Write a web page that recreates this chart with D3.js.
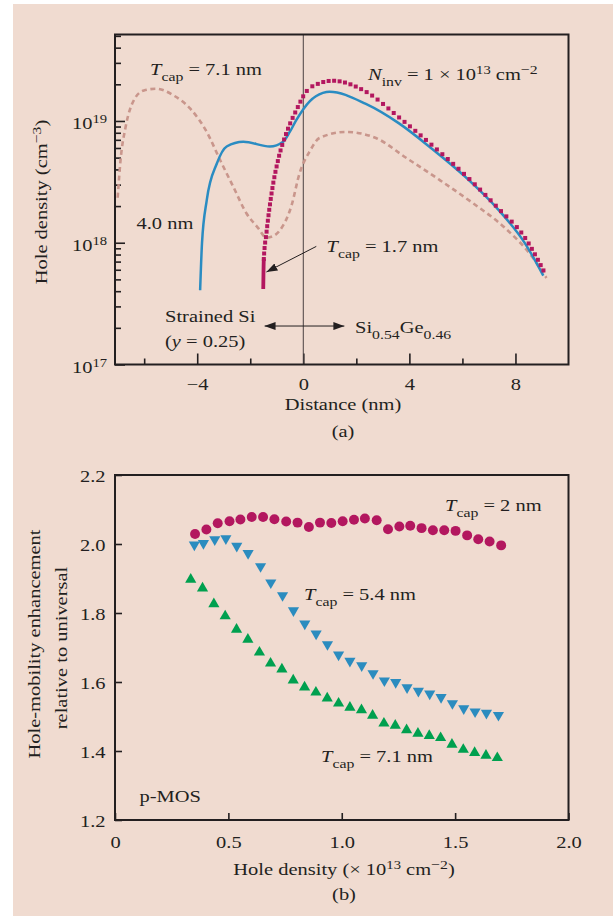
<!DOCTYPE html>
<html><head><meta charset="utf-8">
<script src="https://cdn.jsdelivr.net/npm/d3@7"></script>
<style>
body{margin:0;background:#fff}
svg{display:block}
text{font-family:"Liberation Serif","Times New Roman",serif;fill:#231f20}
</style>
</head><body>
<svg id="c" width="613" height="916"></svg>
<script>
// ---------- Panel (a) data : distance (nm) vs hole density (cm^-3) ----------
const distCap71 = [-7.0,-6.89,-6.7,-6.39,-6.01,-5.55,-4.89,-4.26,-3.64,-3.14,-2.64,-2.14,-1.70,-1.39,-1.08,-0.89,-0.45,-0.14,0.24,0.61,1.61,2.74,3.86,5.11,6.36,7.61,8.61,9.17];
const holeCap71 = [2.34e18,4.79e18,8.91e18,1.48e19,1.78e19,1.84e19,1.62e19,1.26e19,8.13e18,4.79e18,2.88e18,1.74e18,1.32e18,1.10e18,1.15e18,1.26e18,2.0e18,3.72e18,5.62e18,7.24e18,8.13e18,7.24e18,5.01e18,3.31e18,2.14e18,1.32e18,7.76e17,5.13e17];

const distCap40 = [-3.89,-3.82,-3.64,-3.26,-2.89,-2.26,-1.26,-0.76,-0.51,-0.26,0.24,0.74,0.99,2.36,3.61,4.86,6.11,7.36,8.36,9.05];
const holeCap40 = [4.07e17,9.89e17,2.24e18,4.47e18,6.17e18,6.76e18,6.17e18,6.76e18,8.13e18,1.02e19,1.45e19,1.70e19,1.74e19,1.38e19,9.55e18,5.89e18,3.47e18,1.86e18,9.89e17,5.37e17];

const distCap17 = [-1.51,-1.49,-1.39,-1.2,-0.95,-0.64,-0.26,0.11,0.61,1.11,2.36,3.61,4.86,6.11,7.36,8.36,9.11];
const holeCap17 = [4.17e17,7.24e17,1.20e18,2.51e18,4.79e18,7.94e18,1.23e19,1.74e19,2.04e19,2.14e19,1.74e19,1.07e19,6.31e18,3.59e18,1.91e18,1.10e18,5.62e17];

const distTicksMajor = [-4,0,4,8];
const distTicksMinor = [-6,-2,2,6];
const holeTicksMajor = [1e17,1e18,1e19];
const holeTicksMinor = [2e17,3e17,4e17,5e17,6e17,7e17,8e17,9e17,2e18,3e18,4e18,5e18,6e18,7e18,8e18,9e18,2e19,3e19,4e19,5e19];

// ---------- Panel (b) data : hole density (1e13 cm^-2) vs mobility enhancement ----------
const densCap2 = [0.353,0.403,0.453,0.505,0.553,0.603,0.653,0.703,0.755,0.805,0.855,0.904,0.954,1.004,1.054,1.102,1.154,1.204,1.254,1.302,1.352,1.402,1.452,1.502,1.553,1.602,1.652,1.703];
const enhCap2  = [2.029,2.042,2.060,2.066,2.071,2.078,2.078,2.072,2.065,2.062,2.049,2.062,2.061,2.066,2.070,2.074,2.069,2.043,2.051,2.053,2.046,2.040,2.040,2.038,2.025,2.014,2.007,1.996];

const densCap54 = [0.350,0.390,0.440,0.489,0.537,0.587,0.642,0.687,0.739,0.787,0.837,0.887,0.937,0.986,1.036,1.088,1.138,1.188,1.238,1.288,1.338,1.388,1.438,1.488,1.538,1.588,1.638,1.691];
const enhCap54  = [1.998,2.002,2.013,2.016,1.994,1.973,1.935,1.888,1.851,1.807,1.769,1.740,1.709,1.679,1.661,1.648,1.625,1.604,1.599,1.584,1.574,1.566,1.556,1.538,1.523,1.514,1.510,1.504];

const densCap71 = [0.334,0.386,0.436,0.486,0.536,0.586,0.637,0.686,0.736,0.786,0.836,0.886,0.936,0.986,1.036,1.087,1.136,1.186,1.236,1.286,1.336,1.386,1.436,1.486,1.536,1.586,1.636,1.686];
const enhCap71  = [1.897,1.872,1.826,1.791,1.752,1.723,1.686,1.654,1.637,1.605,1.585,1.570,1.553,1.538,1.526,1.519,1.503,1.480,1.474,1.461,1.451,1.444,1.438,1.419,1.404,1.395,1.387,1.380];

const densTicks = [0,0.5,1.0,1.5,2.0];
const enhTicks = [1.2,1.4,1.6,1.8,2.0,2.2];

// ---------- drawing ----------
const INK = "#231f20";
const SX = 1.17;
const FS = 17.5;
const svg = d3.select("#c");
svg.append("rect").attr("x",13).attr("y",4).attr("width",600).attr("height",912).attr("fill","#f0dbd0");

const defs = svg.append("defs");
defs.append("marker").attr("id","ah").attr("viewBox","0 0 11 8").attr("refX",11).attr("refY",4)
  .attr("markerWidth",11).attr("markerHeight",8).attr("markerUnits","userSpaceOnUse")
  .attr("orient","auto-start-reverse")
  .append("path").attr("d","M0,0L11,4L0,8Z").attr("fill",INK);

function label(g, x, y, parts, opt={}) {
  const size = opt.size || FS, rot = opt.rotate || 0;
  const t = g.append("text")
    .attr("transform", `translate(${x},${y}) rotate(${rot}) scale(${SX},1)`)
    .attr("text-anchor", opt.anchor || "start")
    .attr("font-size", size);
  let shift = 0;
  parts.forEach(p => {
    if (typeof p === "string") p = {t:p};
    const target = p.sub ? 6 : p.sup ? -6 : 0;
    const ts = t.append("tspan").text(p.t).attr("dy", target - shift);
    shift = target;
    if (p.sub || p.sup) ts.attr("font-size", p.fs || 13.5);
    if (p.i) ts.attr("font-style","italic");
    if (p.dx) ts.attr("dx", p.dx);
  });
  return t;
}

// ===== Panel (a) =====
const xa = d3.scaleLinear().domain([-7.1,10]).range([115,568.5]);
const ya = d3.scaleLog().domain([1e17,5.13e19]).range([364.5,34.5]);
const ga = svg.append("g");

function tickAxis(g, axis, y0, x0) {
  const a = g.append("g").attr("transform",`translate(${x0},${y0})`).style("color",INK).call(axis);
  a.select(".domain").remove();
  a.selectAll("line").attr("stroke-width",1.6);
  return a;
}
tickAxis(ga, d3.axisBottom(xa).tickValues(distTicksMinor).tickSize(-6).tickFormat(""), 364.5, 0);
const axA = tickAxis(ga, d3.axisBottom(xa).tickValues(distTicksMajor).tickSize(-11).tickFormat(""), 364.5, 0);
axA.selectAll(".tick").each(function(d){
  label(d3.select(this), 0, 25.5, [d<0 ? "\u2212"+Math.abs(d) : String(d)], {anchor:"middle"});
});
tickAxis(ga, d3.axisLeft(ya).tickValues(holeTicksMinor).tickSize(-6).tickFormat(""), 0, 115);
const ayA = tickAxis(ga, d3.axisLeft(ya).tickValues(holeTicksMajor).tickSize(-10).tickFormat(""), 0, 115);
ayA.selectAll(".tick").each(function(d){
  label(d3.select(this), -8, 7.5, ["10", {t:String(Math.round(Math.log10(d))), sup:true, fs:12.5}], {anchor:"end"});
});

// vertical line at 0
ga.append("line").attr("x1",xa(0)).attr("x2",xa(0)).attr("y1",ya.range()[1]).attr("y2",ya.range()[0])
  .attr("stroke","#4a4242").attr("stroke-width",1);

const lineA = d3.line().x(d=>xa(d[0])).y(d=>ya(d[1])).curve(d3.curveMonotoneX);
ga.append("path").datum(d3.zip(distCap71,holeCap71)).attr("d",lineA)
  .attr("fill","none").attr("stroke","#c9968c").attr("stroke-width",2.6).attr("stroke-dasharray","5,3.6");
ga.append("path").datum(d3.zip(distCap40,holeCap40)).attr("d",lineA)
  .attr("fill","none").attr("stroke","#2a8cc2").attr("stroke-width",2.5);

// T_cap = 1.7 nm : solid start, then axis-aligned square markers along the curve
const MAG = "#b3175f";
const mag = ga.append("path").datum(d3.zip(distCap17,holeCap17)).attr("d",lineA)
  .attr("fill","none").attr("stroke",MAG).attr("stroke-width",3.8);
{
  const node = mag.node();
  const L = node.getTotalLength();
  const SOLID = 30;
  mag.attr("stroke-dasharray", `${SOLID},${L+10}`);
  const pts = [];
  let last = node.getPointAtLength(SOLID);
  pts.push(last);
  for (let s = SOLID; s <= L; s += 0.25) {
    const p = node.getPointAtLength(s);
    if (Math.max(Math.abs(p.x-last.x), Math.abs(p.y-last.y)) >= 5.3) { pts.push(p); last = p; }
  }
  ga.append("g").selectAll("rect").data(pts).join("rect")
    .attr("x", p=>p.x-2).attr("y", p=>p.y-2).attr("width",4).attr("height",4).attr("fill",MAG);
}

// frame a
ga.append("rect").attr("x",115).attr("y",34.5).attr("width",453.5).attr("height",330)
  .attr("fill","none").attr("stroke",INK).attr("stroke-width",2);

// annotations a
ga.append("line").attr("x1",xa(0.49)).attr("y1",ya(9.33e17)).attr("x2",xa(-1.39)).attr("y2",ya(5.75e17))
  .attr("stroke",INK).attr("stroke-width",1).attr("marker-end","url(#ah)");
ga.append("line").attr("x1",xa(-1.46)).attr("x2",xa(1.55)).attr("y1",ya(2.07e17)).attr("y2",ya(2.07e17))
  .attr("stroke",INK).attr("stroke-width",1).attr("marker-end","url(#ah)").attr("marker-start","url(#ah)");

label(ga, 150, 75, [{t:"T",i:true},{t:"cap",sub:true},"  =  7.1 nm"]);
label(ga, 368, 79.5, [{t:"N",i:true},{t:"inv",sub:true},"  =  1 \u00d7 10",{t:"13",sup:true,fs:12.5}," cm",{t:"\u22122",sup:true}]);
label(ga, 136.5, 229, ["4.0 nm"]);
label(ga, 326.5, 251.5, [{t:"T",i:true},{t:"cap",sub:true}," = 1.7 nm"]);
label(ga, 165, 321.5, ["Strained Si"]);
label(ga, 165, 346.5, ["(",{t:"y",i:true}," = 0.25)"]);
label(ga, 355, 333, ["Si",{t:"0.54",sub:true},"Ge",{t:"0.46",sub:true}]);
label(ga, 343, 410, ["Distance  (nm)"], {anchor:"middle"});
label(ga, 343, 436.5, ["(a)"], {anchor:"middle"});
label(ga, 46.5, 202, ["Hole density  (cm",{t:"\u22123",sup:true},")"], {anchor:"middle", rotate:-90});

// ===== Panel (b) =====
const xb = d3.scaleLinear().domain([0,2]).range([115,568.5]);
const yb = d3.scaleLinear().domain([1.2,2.2]).range([820,475]);
const gb = svg.append("g");

const axB = tickAxis(gb, d3.axisBottom(xb).tickValues(densTicks).tickSize(-7).tickFormat(""), 820, 0);
axB.selectAll(".tick").each(function(d){
  label(d3.select(this), 0, 28.3, [d===0 ? "0" : d3.format(".1f")(d)], {anchor:"middle"});
});
const ayB = tickAxis(gb, d3.axisLeft(yb).tickValues(enhTicks).tickSize(-7).tickFormat(""), 0, 115);
ayB.selectAll(".tick").each(function(d){
  label(d3.select(this), -9.5, 6.5, [d3.format(".1f")(d)], {anchor:"end"});
});

const sym = (type, size) => d3.symbol().type(type).size(size)();
gb.selectAll("path.c2").data(d3.zip(densCap2,enhCap2)).join("path").attr("class","c2")
  .attr("d", sym(d3.symbolCircle, 78))
  .attr("transform", d=>`translate(${xb(d[0])},${yb(d[1])})`).attr("fill",MAG);
gb.selectAll("path.c54").data(d3.zip(densCap54,enhCap54)).join("path").attr("class","c54")
  .attr("d", sym(d3.symbolTriangle, 54))
  .attr("transform", d=>`translate(${xb(d[0])},${yb(d[1])}) rotate(180)`).attr("fill","#2b8cbf");
gb.selectAll("path.c71").data(d3.zip(densCap71,enhCap71)).join("path").attr("class","c71")
  .attr("d", sym(d3.symbolTriangle, 54))
  .attr("transform", d=>`translate(${xb(d[0])},${yb(d[1])})`).attr("fill","#00a04f");

gb.append("rect").attr("x",115).attr("y",475).attr("width",453.5).attr("height",345)
  .attr("fill","none").attr("stroke",INK).attr("stroke-width",2);

label(gb, 445, 510.7, [{t:"T",i:true},{t:"cap",sub:true},"  =  2 nm"]);
label(gb, 304, 600, [{t:"T",i:true},{t:"cap",sub:true},"  =  5.4 nm"]);
label(gb, 321, 762.3, [{t:"T",i:true},{t:"cap",sub:true},"  =  7.1 nm"]);
label(gb, 139.5, 801.7, ["p-MOS"]);
label(gb, 344, 875, ["Hole density (\u00d7 10",{t:"13",sup:true,fs:12.5}," cm",{t:"\u22122",sup:true},")"], {anchor:"middle"});
label(gb, 344, 900, ["(b)"], {anchor:"middle"});
label(gb, 39.5, 644, ["Hole-mobility enhancement"], {anchor:"middle", rotate:-90});
label(gb, 66.5, 648, ["relative to universal"], {anchor:"middle", rotate:-90});
</script>
</body></html>
